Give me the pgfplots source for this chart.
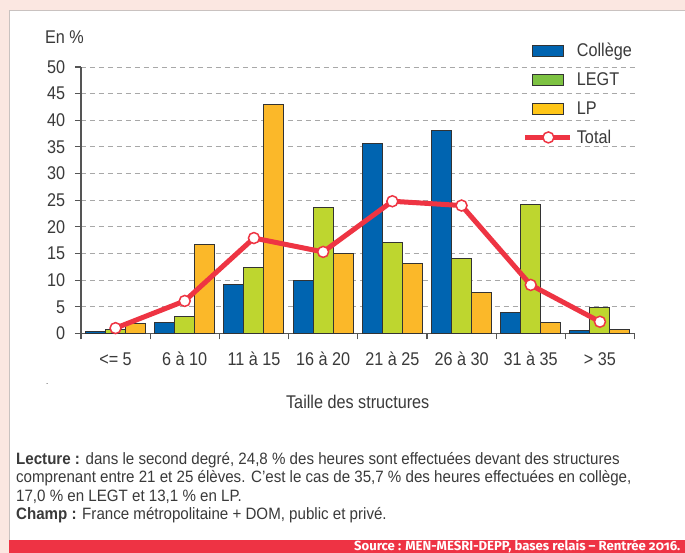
\documentclass[border=0pt]{standalone}
\usepackage{fontspec}
\setmainfont[FakeStretch=0.88]{Liberation Sans}
\newfontfamily\notefam[FakeStretch=0.92]{Liberation Sans}
\newfontfamily\srcfont[Numbers=OldStyle]{Fira Sans}
\usepackage{pgfplots}
\pgfplotsset{compat=1.18}
\usetikzlibrary{backgrounds}
\definecolor{bgpink}{HTML}{FBE7E1}
\definecolor{panelgray}{HTML}{C9C2C0}
\definecolor{srcred}{HTML}{EE3344}
\definecolor{ink}{HTML}{3A3A3A}
\definecolor{axisgray}{HTML}{555555}
\definecolor{gridgray}{HTML}{A8A8A8}
\definecolor{colblue}{HTML}{0064B0}
\definecolor{legtgreen}{HTML}{BED62F}
\definecolor{lpyellow}{HTML}{FBB829}
\definecolor{leggreen}{HTML}{7DC242}
\definecolor{legyellow}{HTML}{FFC617}
\definecolor{totred}{HTML}{EE3443}
\definecolor{barline}{HTML}{333333}

\newcommand\axfont{\fontsize{18.5}{20}\selectfont}
\newcommand\notefont{\notefam\fontsize{16.5}{18}\selectfont}

\begin{document}
\begin{tikzpicture}[x=1bp,y=1bp]
\begin{axis}[
  name=ax, at={(0,0)}, anchor=south west,
  scale only axis, width=554bp, height=266.7bp,
  xmin=-0.5, xmax=7.5, ymin=0, ymax=50,
  axis x line*=bottom, axis y line*=left,
  axis line style={draw=axisgray,line width=1.2bp},
  ytick={0,5,...,50},
  xtick={0,...,7},
  xticklabels={<= 5,6 à 10,11 à 15,16 à 20,21 à 25,26 à 30,31 à 35,> 35},
  minor xtick={-0.5,0.5,...,7.5},
  tick align=outside,
  major tick length=6bp, minor tick length=6bp,
  tick style={draw=axisgray,line width=1.2bp},
  major x tick style={draw=none},
  ymajorgrids,
  grid style={draw=gridgray,line width=0.8bp,dash pattern=on 5.5bp off 3.5bp},
  tick label style={font=\axfont,text=ink},
  /pgf/number format/assume math mode=true,
  yticklabel style={anchor=east,inner sep=0pt,xshift=-9.7bp},
  xticklabel style={anchor=base,inner sep=0pt,yshift=-26bp},
  xlabel={Taille des structures},
  xlabel style={font=\axfont,text=ink,at={(axis description cs:0.5,0)},anchor=base,inner sep=0pt,yshift=-74.6bp},
  legend style={at={(0.798,1.0896)},anchor=north west,draw=none,fill=none,
    inner sep=0pt,row sep=14.4bp,font=\axfont,text=ink,
    nodes={inner sep=0pt},
    /tikz/every odd column/.append style={column sep=4bp}},
  legend cell align=left,
]
% Collège
\addplot[ybar,bar width=20bp,bar shift=-20bp,fill=colblue,draw=barline,line width=1bp,forget plot]
  coordinates {(0,0.4) (1,2.1) (2,9.1) (3,9.9) (4,35.7) (5,38.1) (6,3.9) (7,0.5)};
% LEGT
\addplot[ybar,bar width=20bp,bar shift=0bp,fill=legtgreen,draw=barline,line width=1bp,forget plot]
  coordinates {(0,0.8) (1,3.1) (2,12.4) (3,23.6) (4,17.0) (5,14.0) (6,24.1) (7,4.8)};
% LP
\addplot[ybar,bar width=20bp,bar shift=20bp,fill=lpyellow,draw=barline,line width=1bp,forget plot]
  coordinates {(0,1.8) (1,16.7) (2,43.0) (3,15.0) (4,13.1) (5,7.6) (6,2.0) (7,0.7)};
% Total
\addplot[totred,line width=5bp,mark=*,mark size=5.5bp,
  mark options={fill=white,draw=totred,line width=1.5bp},forget plot]
  coordinates {(0,1.0) (1,6.1) (2,17.9) (3,15.3) (4,24.8) (5,24.0) (6,9.1) (7,2.2)};

\addlegendimage{legend image code/.code={
  \draw[fill=colblue,draw=barline,line width=1bp] (7bp,-5.5bp) rectangle (38bp,5.5bp);}}
\addlegendentry{Collège}
\addlegendimage{legend image code/.code={
  \draw[fill=leggreen,draw=barline,line width=1bp] (7bp,-5.5bp) rectangle (38bp,5.5bp);}}
\addlegendentry{LEGT}
\addlegendimage{legend image code/.code={
  \draw[fill=legyellow,draw=barline,line width=1bp] (7bp,-5.5bp) rectangle (38bp,5.5bp);}}
\addlegendentry{LP}
\addlegendimage{legend image code/.code={
  \draw[totred,line width=5bp] (0bp,0bp) -- (45bp,0bp);
  \draw[fill=white,draw=totred,line width=1.5bp] (23bp,0bp) circle (5.5bp);}}
\addlegendentry{Total}
\end{axis}

% frame and notes, placed relative to the axis corner (81,219.3)
\begin{scope}[shift={(ax.south west)},xshift=-81bp,yshift=-219.3bp]
\begin{pgfonlayer}{background}
\fill[bgpink] (0,0) rectangle (685,553);
\fill[white] (10,13) rectangle (685,542);
\draw[panelgray,line width=1bp] (10,13) -- (10,542) -- (685,542);
\fill[srcred] (9,0) rectangle (685,13);
\end{pgfonlayer}
\node[anchor=base east,inner sep=0pt,text=white,font=\srcfont\bfseries\fontsize{13.2}{13}\selectfont]
  at (681,2) {Source : MEN-MESRI-DEPP, bases relais – Rentrée 2016.};

\node[anchor=base west,inner sep=0pt,text=ink,font=\axfont] at (45,509.7) {En \%};
\node[anchor=base west,inner sep=0pt,text=ink,font=\small] at (46,168) {.};

\node[anchor=base west,inner sep=0pt,text=ink,font=\notefont] at (16,88)
  {\textbf{Lecture :} dans le second degré, 24,8 \% des heures sont effectuées devant des structures};
\node[anchor=base west,inner sep=0pt,text=ink,font=\notefont] at (16,69.7)
  {comprenant entre 21 et 25 élèves. C’est le cas de 35,7 \% des heures effectuées en collège,};
\node[anchor=base west,inner sep=0pt,text=ink,font=\notefont] at (16,51.3)
  {17,0 \% en LEGT et 13,1 \% en LP.};
\node[anchor=base west,inner sep=0pt,text=ink,font=\notefont] at (16,33)
  {\textbf{Champ :} France métropolitaine + DOM, public et privé.};
\end{scope}
\end{tikzpicture}
\end{document}
